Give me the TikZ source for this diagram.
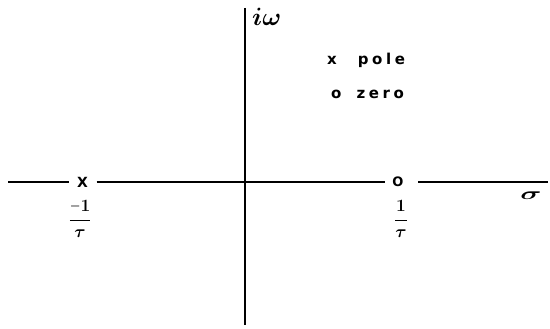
\documentclass[tikz,border=0pt]{standalone}
\usepackage{amsmath}
\usepackage{bm}
\usepackage{graphicx}
\usepackage{fontspec}
\setmainfont{DejaVu Sans}
\begin{document}
\begin{tikzpicture}[x=1pt,y=-1pt,
  axis/.style={line width=1.4pt},
  lbl/.style={inner sep=0pt, font=\bfseries\fontsize{15}{17}\selectfont},
  frac/.style={inner sep=0pt, font=\fontsize{18}{21}\selectfont}]
\useasboundingbox (0,0) rectangle (550,329);
% markers
\node[inner sep=0pt, font=\bfseries\fontsize{14}{16}\selectfont] (pole) at (82.5,182) {X};
\node[inner sep=0pt, font=\bfseries\fontsize{13}{16}\selectfont] (zero) at (398,182) {O};
\coordinate (L) at (8,182);
\coordinate (R) at (548,182);
\coordinate (T) at (245,8);
\coordinate (B) at (245,325);
\draw[axis] (L) -- ([xshift=-14pt]pole.center);
\draw[axis] ([xshift=14pt]pole.center) -- ([xshift=-13pt]zero.center);
\draw[axis] ([xshift=20pt]zero.center) -- (R);
\draw[line width=1.2pt] (T) -- (B);
% labels
\node[inner sep=0pt, anchor=west, font=\fontsize{17}{20}\selectfont] (iw) at (252,17) {\scalebox{1.45}{$\bm{i\omega}$}};
\node[lbl, anchor=west] (legp) at (327,60) {x\hspace{21pt}\addfontfeature{LetterSpace=24}pole};
\node[lbl, anchor=west] (legz) at (331,94) {o\hspace{15pt}\addfontfeature{LetterSpace=24}zero};
\node[frac] (m) at (80,219) {$\displaystyle\bm{\frac{\raisebox{2pt}{$\scriptstyle-$}1}{\tau}}$};
\node[frac] (p) at (401,219) {$\displaystyle\bm{\frac{1}{\tau}}$};
\node[inner sep=0pt, font=\fontsize{16}{17}\selectfont] (s) at (531,196) {\scalebox{1.7}[1]{$\bm{\sigma}$}};
\end{tikzpicture}
\end{document}
